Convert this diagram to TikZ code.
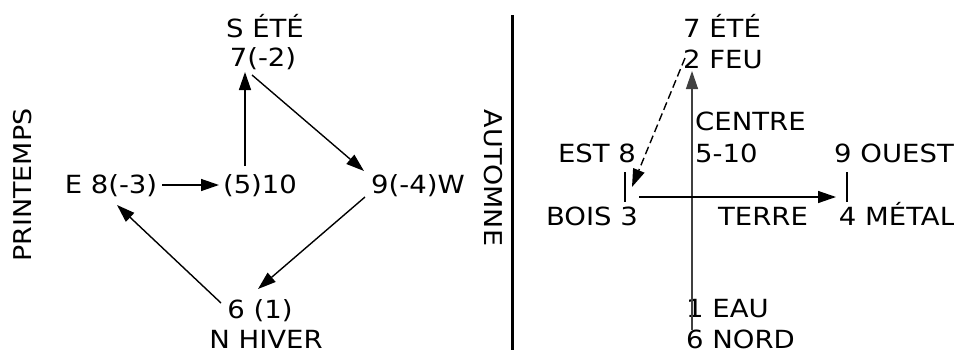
\documentclass[tikz,border=0pt]{standalone}
\usepackage{fontspec}
\setmainfont{DejaVu Sans}[FakeStretch=1.1]
\usetikzlibrary{arrows.meta}
\begin{document}
\begin{tikzpicture}[x=1pt,y=-1pt,
  lbl/.style={inner sep=0pt,anchor=base,font=\fontsize{25}{29}\selectfont},
  vlbl/.style={inner sep=0pt,font=\fontsize{24.5}{29}\selectfont},
  arr/.style={line width=1.4pt,-{Triangle[length=18pt,width=12pt]}},
  plain/.style={line width=1.4pt}]
\useasboundingbox (0,0) rectangle (954,354);
% left diagram
\node[lbl] (sete) at (265,37) {S ÉTÉ};
\node[lbl] (s7) at (263,66) {7(-2)};
\node[lbl] (e8) at (111,193) {E 8(-3)};
\node[lbl] (c510) at (260,193) {(5)10};
\node[lbl] (w9) at (418,193) {9(-4)W};
\node[lbl] (n6) at (260,318) {6 (1)};
\node[lbl] (nh) at (266,348) {N HIVER};
\node[vlbl,rotate=90] (prin) at (23,185) {PRINTEMPS};
\coordinate (a1s) at (245,166);
\coordinate (a1e) at (245,72);
\coordinate (a2s) at (252,75);
\coordinate (a2e) at (364,171);
\coordinate (a3s) at (162,185);
\coordinate (a3e) at (219,185);
\coordinate (a4s) at (365,197);
\coordinate (a4e) at (258,289);
\coordinate (a5s) at (221,303);
\coordinate (a5e) at (117,205);
\draw[arr] (a1s) -- (a1e);
\draw[arr] (a2s) -- (a2e);
\draw[arr] (a3s) -- (a3e);
\draw[arr] (a4s) -- (a4e);
\draw[arr] (a5s) -- (a5e);
% separator
\coordinate (sept) at (512,15);
\coordinate (sepb) at (512,350);
\draw[line width=3pt] (sept) -- (sepb);
\node[vlbl,rotate=-90] (aut) at (493,178) {AUTOMNE};
% right diagram
\node[lbl] (ete7) at (722,37) {7 ÉTÉ};
\node[lbl] (feu2) at (723,68) {2 FEU};
\node[lbl,anchor=base west] (centre) at (695,130) {CENTRE};
\node[lbl,anchor=base west] (c5) at (695,162) {5-10};
\node[lbl] (est8) at (597,162) {EST 8};
\node[lbl] (ouest) at (894,162) {9 OUEST};
\node[lbl] (bois) at (592,225) {BOIS 3};
\node[lbl] (terre) at (763,225) {TERRE};
\node[lbl] (metal) at (897,225) {4 MÉTAL};
\node[lbl,anchor=base west] (eau) at (686,317) {1 EAU};
\node[lbl,anchor=base west] (nord) at (686,348) {6 NORD};
\coordinate (vb) at (692,330);
\coordinate (vt) at (692,71);
\draw[arr,black!75,line width=1.3pt] (vb) -- (vt);
\coordinate (hl) at (639,197);
\coordinate (hr) at (836,197);
\draw[arr] (hl) -- (hr);
\coordinate (t1a) at (625,172);
\coordinate (t1b) at (625,202);
\draw[plain] (t1a) -- (t1b);
\coordinate (t2a) at (847,172);
\coordinate (t2b) at (847,202);
\draw[plain] (t2a) -- (t2b);
\coordinate (ds) at (685,58);
\coordinate (de) at (632,187);
\draw[arr,dash pattern=on 8pt off 4pt] (ds) -- (de);
\end{tikzpicture}
\end{document}
